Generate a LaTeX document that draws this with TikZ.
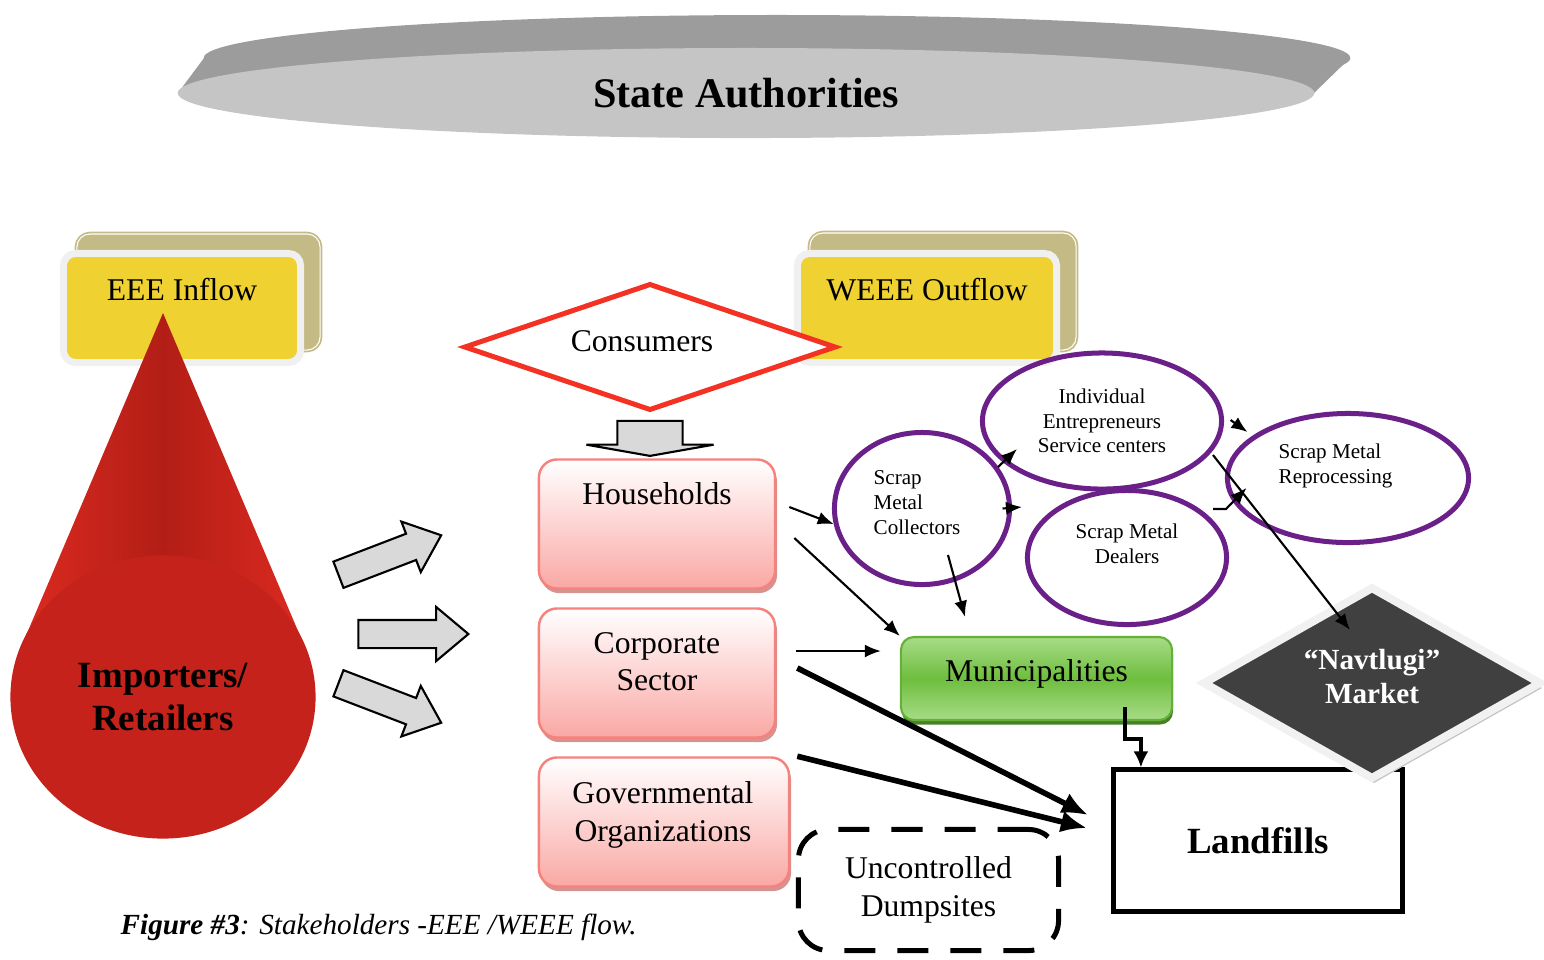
\documentclass[tikz,border=0pt]{standalone}
\usepackage{fontspec}
\setmainfont{Liberation Serif}
\usepackage{xcolor}
\usepackage{tikz}
\usetikzlibrary{arrows.meta,positioning,shapes.geometric,shapes.arrows,shadows}
\definecolor{statelight}{RGB}{197,197,197}
\definecolor{statedark}{RGB}{156,156,156}
\definecolor{tagyellow}{RGB}{240,209,50}
\definecolor{tagolive}{RGB}{196,186,133}
\definecolor{tagrim}{RGB}{240,240,240}
\definecolor{conered}{RGB}{220,42,32}
\definecolor{conedark}{RGB}{178,30,22}
\definecolor{basered}{RGB}{196,34,26}
\definecolor{blockgray}{RGB}{217,217,217}
\definecolor{consumerred}{RGB}{243,50,35}
\definecolor{pinkline}{RGB}{245,130,125}
\definecolor{pinkfill}{RGB}{250,168,164}
\definecolor{pinkshadow}{RGB}{212,146,144}
\definecolor{greenlight}{RGB}{168,220,135}
\definecolor{greenmid}{RGB}{110,190,62}
\definecolor{greenline}{RGB}{100,176,56}
\definecolor{greenshadow}{RGB}{72,128,40}
\definecolor{stakepurple}{RGB}{106,31,137}
\definecolor{marketdark}{RGB}{64,64,64}
\definecolor{marketrim}{RGB}{241,241,241}
\definecolor{marketshadow}{RGB}{196,196,196}
\tikzset{
  stateplate/.style={
    ellipse,
    fill=statelight,
    minimum width=11.36cm,
    minimum height=0.9cm,
    inner sep=0pt,
    font=\fontsize{12}{14}\selectfont\bfseries
  },
  tagback/.style={
    rectangle,
    rounded corners=0.13cm,
    fill=tagolive,
    draw=tagolive,
    double=white,
    double distance=0.3pt,
    line width=0.5pt
  },
  tagbox/.style={
    rectangle,
    rounded corners=0.12cm,
    fill=tagyellow,
    draw=tagrim,
    line width=0.07cm,
    inner sep=0pt,
    minimum height=1.09cm,
    text height=0.465cm,
    text depth=0.625cm,
    font=\fontsize{9}{10.5}\selectfont
  },
  basedisc/.style={
    ellipse,
    fill=basered,
    minimum width=3.05cm,
    minimum height=2.83cm,
    inner sep=0pt,
    align=center,
    font=\fontsize{10.5}{12.5}\selectfont\bfseries
  },
  blockarrow/.style={
    single arrow,
    draw=black,
    line width=0.6pt,
    fill=blockgray,
    inner xsep=0pt,
    inner ysep=0.13cm,
    single arrow head extend=0.13cm,
    single arrow tip angle=80,
    minimum height=1.1cm
  },
  consumerdiamond/.style={
    diamond,
    aspect=3,
    draw=consumerred,
    line width=0.05cm,
    fill=white,
    inner sep=0pt,
    minimum width=3.72cm,
    minimum height=1.27cm,
    text height=0.3cm,
    text depth=0.21cm,
    font=\fontsize{9}{10.5}\selectfont
  },
  sectorbox/.style={
    rectangle,
    rounded corners=0.18cm,
    draw=pinkline,
    line width=0.7pt,
    top color=white,
    bottom color=pinkfill,
    general shadow={fill=pinkshadow, shadow xshift=0.02cm, shadow yshift=-0.045cm},
    inner sep=0pt,
    minimum height=1.29cm,
    font=\fontsize{9}{10.6}\selectfont
  },
  sectortext/.style={
    align=center,
    inner sep=0pt,
    font=\fontsize{9}{10.6}\selectfont
  },
  municipalbox/.style={
    rectangle,
    rounded corners=0.13cm,
    draw=greenline,
    line width=0.6pt,
    top color=greenlight,
    bottom color=greenlight,
    middle color=greenmid,
    general shadow={fill=greenshadow, shadow xshift=0.01cm, shadow yshift=-0.045cm},
    inner sep=0pt,
    minimum width=2.71cm,
    minimum height=0.83cm,
    text height=0.44cm,
    text depth=0.39cm,
    font=\fontsize{9}{10.5}\selectfont
  },
  stakeellipse/.style={
    ellipse,
    draw=stakepurple,
    line width=0.05cm,
    inner sep=0.02cm,
    align=center,
    font=\fontsize{6}{7}\selectfont
  },
  staketext/.style={
    inner sep=0pt,
    font=\fontsize{6}{7}\selectfont
  },
  marketdiamond/.style={
    diamond,
    aspect=1.75,
    fill=marketdark,
    draw=marketrim,
    line width=0.08cm,
    general shadow={fill=marketshadow, shadow xshift=0.02cm, shadow yshift=-0.05cm},
    inner sep=0pt,
    minimum width=3.39cm,
    minimum height=1.93cm
  },
  markettext/.style={
    inner sep=0pt,
    text=white,
    align=center,
    font=\fontsize{8.3}{9.4}\selectfont\bfseries
  },
  landfillbox/.style={
    rectangle,
    draw=black,
    line width=0.05cm,
    fill=white,
    minimum width=2.88cm,
    minimum height=1.41cm,
    font=\fontsize{10.5}{12.5}\selectfont\bfseries
  },
  dumpbox/.style={
    rectangle,
    rounded corners=0.3cm,
    draw=black,
    line width=0.05cm,
    dash pattern=on 0.31cm off 0.22cm,
    minimum width=2.6cm,
    minimum height=1.21cm,
    align=center,
    font=\fontsize{9}{10.8}\selectfont
  },
  thinflow/.style={
    -{Latex[length=0.16cm,width=0.13cm]},
    line width=0.6pt
  },
  thickflow/.style={
    -{Latex[length=0.26cm,width=0.22cm]},
    line width=1.6pt
  },
  elbowflow/.style={
    -{Latex[length=0.16cm,width=0.15cm]},
    line width=1.1pt
  }
}
\begin{document}
\begin{tikzpicture}[x=0.01cm,y=-0.01cm]
\useasboundingbox (0,0) rectangle (1544,959);

\fill[statedark] (777,58) ellipse [x radius=5.73cm, y radius=0.43cm];
\fill[statedark] (204,58) -- (178,93) -- (1314,93) -- (1350,58) -- cycle;
\node[stateplate] (state) at (746,93) {State Authorities};

\node[tagback, minimum width=2.43cm, minimum height=1.16cm] (eeeback) at (198.5,292) {};
\node[tagbox, minimum width=2.37cm] (eee) at (182,308) {EEE Inflow};
\node[tagback, minimum width=2.66cm, minimum height=1.17cm] (weeeback) at (943,291.5) {};
\node[tagbox, minimum width=2.59cm] (weee) at (927,308) {WEEE Outflow};

\shade[left color=conered, right color=conered, middle color=conedark] (163,313) -- (22,645) -- (304,645) -- cycle;
\node[basedisc] (importers) at (163,697) {Importers/\\Retailers};

\node[blockarrow, rotate=21] (arrowtop) at (382,558) {};
\node[blockarrow] (arrowmid) at (405,634) {};
\node[blockarrow, rotate=-21] (arrowbot) at (382,700) {};

\node[consumerdiamond] (consumers) at (650,347) {Consumers\kern0.16cm};
\node[blockarrow, rotate=-90, minimum height=0.35cm, inner ysep=0.315cm, single arrow head extend=0.31cm, single arrow tip angle=160] (arrowdown) at (650,435.5) {};

\node[sectorbox, minimum width=2.36cm, text height=0.45cm, text depth=0.84cm] (households) at (657,524) {Households};
\node[sectorbox, minimum width=2.36cm] (corporate) at (657,673) {};
\node[sectortext] (corporatetext) at (657,662) {Corporate\\Sector};
\node[sectorbox, minimum width=2.5cm] (governmental) at (664,822) {};
\node[sectortext] (governmentaltext) at (663,815) {Governmental\\Organizations};

\node[municipalbox] (municipalities) at (1036.5,678.5) {Municipalities};
\node[landfillbox] (landfills) at (1258,840.5) {Landfills};
\node[dumpbox] (dumpsites) at (928.5,890) {Uncontrolled\\Dumpsites};
\node[marketdiamond] (navtlugi) at (1372,683) {};
\node[markettext] (navtlugitext) at (1372,676.5) {“Navtlugi”\\Market};

\node[stakeellipse, minimum width=1.75cm, minimum height=1.52cm] (collectors) at (922,508.5) {};
\node[staketext, anchor=west, align=left] (collectorstext) at (873,502.5) {Scrap\\Metal\\Collectors};
\node[stakeellipse, minimum width=2.39cm, minimum height=1.36cm] (individual) at (1102,421) {Individual\\Entrepreneurs\\Service centers};
\node[stakeellipse, minimum width=1.99cm, minimum height=1.34cm] (dealers) at (1127,557.5) {};
\node[staketext, align=center] (dealerstext) at (1127,543.5) {Scrap Metal\\Dealers};
\node[stakeellipse, minimum width=2.41cm, minimum height=1.29cm] (reprocessing) at (1348,478) {};
\node[staketext, anchor=west, align=left] (reprocessingtext) at (1278,466) {Scrap Metal\\Reprocessing};

\node[anchor=west, inner sep=0pt, font=\fontsize{8.3}{10}\selectfont] (caption) at (120,927) {\textbf{\textit{Figure \#3}}\textit{: Stakeholders -EEE /WEEE flow.}};

\draw[thinflow] ([shift={(13,-17)}]households.east) -- (collectors.190);
\draw[thinflow] ([shift={(18,14)}]households.east) -- (municipalities.north west);
\draw[thinflow] ([shift={(20,-22)}]corporate.east) -- ([shift={(-19,-27.5)}]municipalities.west);
\draw[thinflow] ([shift={(26,46.5)}]collectors.center) -- ([shift={(-71.5,-19)}]municipalities.north);
\draw[thinflow] ([shift={(76,-41.5)}]collectors.center) -- ([shift={(-85,28)}]individual.center);
\draw[thinflow] ([xshift=-0.095cm]collectors.east) -- ([shift={(-3,-50.5)}]dealers.west);
\draw[thinflow] ([shift={(6.5,-1)}]individual.east) -- ([shift={(22.5,-46)}]reprocessing.west);
\draw[thinflow] ([shift={(86,-48.5)}]dealers.center) -- ++(13,0) -- ([shift={(21.5,10)}]reprocessing.west);
\draw[thinflow] ([shift={(111,34)}]individual.center) -- ([shift={(-22,47.5)}]navtlugi.north);
\draw[thickflow] ([shift={(21,-5)}]corporate.east) -- ([shift={(-23.5,-25.5)}]landfills.west);
\draw[thickflow] ([xshift=0.07cm]governmental.north east) -- ([shift={(-24.5,-12.5)}]landfills.west);
\draw[elbowflow] ([shift={(88.5,-14)}]municipalities.south) -- ++(0,32) -| ([xshift=-1.17cm]landfills.north);
\end{tikzpicture}
\end{document}
